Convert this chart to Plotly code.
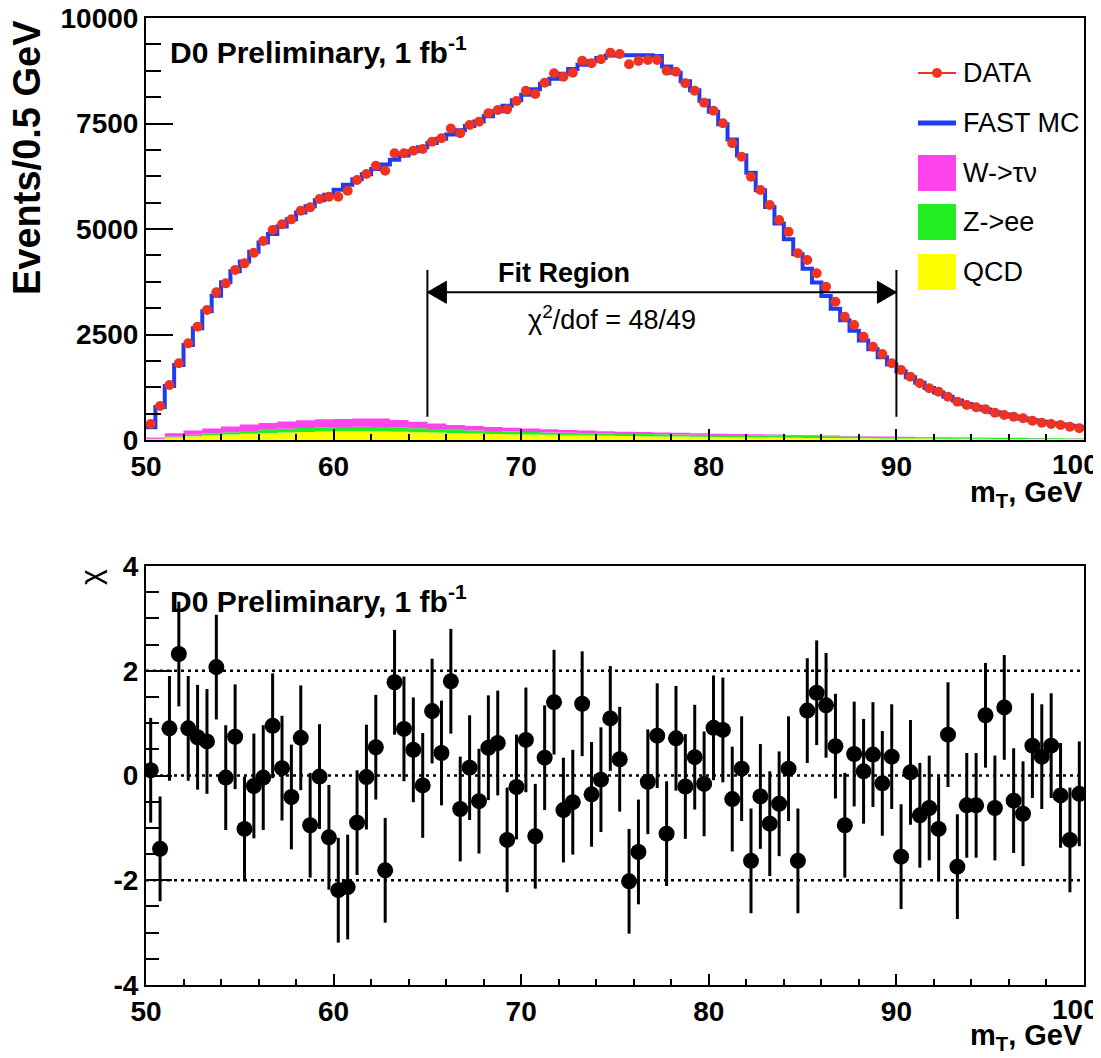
import numpy as np
import plotly.graph_objects as go

# page is 1101x1058; the html body has an 8px margin, so the figure is placed at (8, 8)
OFF = 8
FW, FH = 1101 - OFF, 1058 - OFF

# ---------------- data ----------------
bin_low = 50.0
bin_width = 0.5

data_counts = [379, 806, 1303, 1817, 2290, 2686, 3080, 3500, 3712, 4028,
               4186, 4439, 4715, 4976, 5111, 5229, 5434, 5513, 5711, 5766,
               5766, 5908, 6161, 6303, 6500, 6382, 6794, 6794, 6856, 6896,
               7070, 7149, 7380, 7268, 7464, 7543, 7742, 7820, 7836, 8033,
               8277, 8199, 8467, 8689, 8609, 8704, 8988, 8926, 9021, 9178,
               9147, 8903, 8981, 9005, 9005, 8751, 8728, 8452, 8277, 7993,
               7803, 7505, 7031, 6713, 6240, 5924, 5569, 5213, 4936, 4424,
               4265, 3950, 3633, 3278, 2922, 2725, 2448, 2211, 2038, 1817,
               1659, 1500, 1343, 1225, 1145, 1026, 908, 829, 775, 727,
               647, 592, 553, 514, 457, 410, 379, 355, 315, 277]

mc_counts = [300, 780, 1280, 1780, 2250, 2650, 3050, 3420, 3740, 4000,
             4230, 4460, 4680, 4880, 5060, 5230, 5390, 5540, 5680, 5810,
             5930, 6050, 6180, 6300, 6420, 6530, 6640, 6740, 6840, 6940,
             7040, 7140, 7240, 7340, 7440, 7550, 7670, 7790, 7920, 8050,
             8180, 8310, 8440, 8560, 8680, 8790, 8890, 8980, 9050, 9110,
             9120, 9120, 9120, 9120, 9100, 8850, 8700, 8500, 8290, 8040,
             7780, 7480, 7120, 6740, 6330, 5920, 5520, 5130, 4760, 4400,
             4060, 3730, 3410, 3110, 2840, 2590, 2360, 2150, 1960, 1790,
             1630, 1485, 1355, 1235, 1125, 1025, 935, 855, 785, 720,
             660, 605, 555, 510, 468, 430, 396, 366, 338, 312]

chi_vals = [0.10, -1.40, 0.90, 2.32, 0.90, 0.73, 0.65, 2.07, -0.04, 0.74,
            -1.02, -0.20, -0.04, 0.95, 0.14, -0.41, 0.72, -0.95, -0.02, -1.18,
            -2.19, -2.13, -0.90, -0.03, 0.54, -1.81, 1.78, 0.89, 0.49, -0.19,
            1.23, 0.43, 1.80, -0.64, 0.15, -0.49, 0.53, 0.62, -1.23, -0.22,
            0.68, -1.16, 0.34, 1.40, -0.66, -0.51, 1.37, -0.36, -0.08, 1.09,
            0.31, -2.02, -1.46, -0.12, 0.76, -1.11, 0.71, -0.21, 0.35, -0.16,
            0.91, 0.87, -0.45, 0.13, -1.63, -0.40, -0.92, -0.54, 0.13, -1.63,
            1.24, 1.58, 1.34, 0.56, -0.95, 0.41, 0.08, 0.40, -0.15, 0.36,
            -1.55, 0.06, -0.76, -0.62, -1.02, 0.78, -1.74, -0.57, -0.57, 1.15,
            -0.62, 1.30, -0.48, -0.73, 0.57, 0.36, 0.57, -0.38, -1.23, -0.35]
chi_err = 1.0

# backgrounds in 1 GeV bins
bkg_bin_width = 1.0
qcd = [20, 60, 90, 110, 130, 150, 165, 180, 190, 200,
       205, 205, 200, 195, 185, 175, 165, 155, 145, 138,
       130, 122, 115, 108, 100, 95, 90, 85, 80, 75,
       70, 66, 62, 58, 55, 50, 47, 44, 41, 38,
       36, 34, 32, 30, 28, 26, 25, 24, 23, 22]
zee = [10, 20, 35, 45, 55, 65, 75, 85, 95, 100,
       105, 110, 110, 105, 95, 85, 78, 72, 68, 64,
       60, 58, 56, 54, 52, 50, 50, 50, 50, 50,
       50, 50, 50, 48, 46, 44, 42, 40, 38, 36,
       34, 32, 30, 28, 26, 24, 22, 20, 18, 16]
wtau = [30, 80, 100, 120, 135, 150, 165, 175, 185, 190,
        190, 195, 200, 175, 150, 130, 115, 105, 95, 88,
        80, 74, 68, 62, 57, 52, 47, 43, 39, 35,
        31, 28, 25, 22, 19, 17, 15, 13, 11, 10,
        9, 8, 7, 6, 5, 5, 4, 4, 3, 3]

top_yticks = [0, 2500, 5000, 7500, 10000]
top_yticktext = ["0", "2500", "5000", "7500", "10000"]
x_ticks = [50, 60, 70, 80, 90, 100]
x_ticktext = ["50", "60", "70", "80", "90", ""]   # the edge label "100" is placed by hand below
x_last_label = "100"
bot_yticks = [-4, -2, 0, 2, 4]
bot_yticktext = ["-4", "-2", "0", "2", "4"]

fit_lo, fit_hi = 65, 90
legend_labels = ["DATA", "FAST MC", "W->\u03c4\u03bd", "Z->ee", "QCD"]

# ---------------- colours ----------------
C_DATA = "#ee3322"
C_MC = "#1f3cf0"
C_W = "#ff44ee"
C_Z = "#22ee22"
C_QCD = "#ffff00"

# ---------------- derived ----------------
nb = len(data_counts)
edges = bin_low + bin_width * np.arange(nb + 1)
centers = bin_low + bin_width * (np.arange(nb) + 0.5)
bedges = bin_low + bkg_bin_width * np.arange(len(qcd) + 1)
s1 = np.array(qcd, float)
s2 = s1 + np.array(zee, float)
s3 = s2 + np.array(wtau, float)


def ext(a):
    a = list(a)
    return a + [a[-1]]


def px(x):
    return (x - OFF) / FW


def py(y):
    return 1 - (y - OFF) / FH


fig = go.Figure()

fig.add_trace(go.Scatter(x=bedges, y=ext(s1), mode="lines", line=dict(width=0, shape="hv"),
                         fill="tozeroy", fillcolor=C_QCD, showlegend=False, xaxis="x", yaxis="y"))
fig.add_trace(go.Scatter(x=bedges, y=ext(s2), mode="lines", line=dict(width=0, shape="hv"),
                         fill="tonexty", fillcolor=C_Z, showlegend=False, xaxis="x", yaxis="y"))
fig.add_trace(go.Scatter(x=bedges, y=ext(s3), mode="lines", line=dict(width=0, shape="hv"),
                         fill="tonexty", fillcolor=C_W, showlegend=False, xaxis="x", yaxis="y"))
fig.add_trace(go.Scatter(x=edges, y=ext(mc_counts), mode="lines",
                         line=dict(color=C_MC, width=4, shape="hv"), showlegend=False,
                         xaxis="x", yaxis="y"))
fig.add_trace(go.Scatter(x=centers, y=data_counts, mode="markers",
                         marker=dict(color=C_DATA, size=10), showlegend=False,
                         xaxis="x", yaxis="y"))

fig.add_trace(go.Scatter(x=centers, y=chi_vals, mode="markers",
                         marker=dict(color="black", size=16),
                         error_y=dict(type="constant", value=chi_err, thickness=3, width=0, color="black"),
                         showlegend=False, xaxis="x2", yaxis="y2"))

axfont = dict(family="Liberation Sans", size=28, color="black", weight="bold")
common = dict(showline=True, linecolor="black", linewidth=2, mirror=True, ticks="inside",
              tickcolor="black", tickwidth=2, showgrid=False, zeroline=False, tickfont=axfont,
              automargin=False, ticklabeloverflow="allow")

top_dom = [py(440), py(18)]
bot_dom = [py(985), py(566)]
xdom = [px(146), px(1084)]

fig.update_layout(
    template="none",
    width=FW, height=FH,
    margin=dict(l=0, r=0, t=0, b=0, pad=0),
    paper_bgcolor="white", plot_bgcolor="white",
    showlegend=False,
    xaxis=dict(domain=xdom, anchor="y", range=[50, 100], tickvals=x_ticks, ticktext=x_ticktext, ticklen=11,
               minor=dict(dtick=2, tick0=50, ticklen=6, tickwidth=2, ticks="inside", tickcolor="black"),
               **common),
    yaxis=dict(domain=top_dom, anchor="x", range=[0, 10000], tickvals=top_yticks, ticktext=top_yticktext,
               ticklen=27,
               minor=dict(dtick=625, tick0=0, ticklen=15, tickwidth=2, ticks="inside", tickcolor="black"),
               **common),
    xaxis2=dict(domain=xdom, anchor="y2", range=[50, 100], tickvals=x_ticks, ticktext=x_ticktext, ticklen=11,
                minor=dict(dtick=2, tick0=50, ticklen=6, tickwidth=2, ticks="inside", tickcolor="black"),
                **common),
    yaxis2=dict(domain=bot_dom, anchor="x2", range=[-4, 4], tickvals=bot_yticks, ticktext=bot_yticktext,
                ticklen=26,
                minor=dict(dtick=0.5, tick0=0, ticklen=13, tickwidth=2, ticks="inside", tickcolor="black"),
                **common),
)

shapes = []
for yv in [-2, 0, 2]:
    shapes.append(dict(type="line", xref="x2", yref="y2", x0=50, x1=100, y0=yv, y1=yv,
                       line=dict(color="black", width=2.5, dash="3px,4px"), layer="below"))
for xv in [fit_lo, fit_hi]:
    shapes.append(dict(type="line", xref="x", yref="y", x0=xv, x1=xv, y0=550, y1=4030,
                       line=dict(color="black", width=2)))
shapes.append(dict(type="line", xref="x", yref="y", x0=fit_lo, x1=fit_hi, y0=3500, y1=3500,
                   line=dict(color="black", width=2)))
shapes.append(dict(type="path", xref="x", yref="y", xsizemode="pixel", ysizemode="pixel",
                   xanchor=fit_lo, yanchor=3500, path="M0,0 L19,11 L19,-11 Z",
                   fillcolor="black", line=dict(color="black", width=1)))
shapes.append(dict(type="path", xref="x", yref="y", xsizemode="pixel", ysizemode="pixel",
                   xanchor=fit_hi, yanchor=3500, path="M0,0 L-19,11 L-19,-11 Z",
                   fillcolor="black", line=dict(color="black", width=1)))

leg_y = [73, 123, 173, 222, 272]
shapes.append(dict(type="line", xref="paper", yref="paper", x0=px(918), x1=px(956),
                   y0=py(leg_y[0]), y1=py(leg_y[0]), line=dict(color=C_DATA, width=2)))
shapes.append(dict(type="circle", xref="paper", yref="paper", x0=px(932), x1=px(942),
                   y0=py(leg_y[0] + 5), y1=py(leg_y[0] - 5), fillcolor=C_DATA,
                   line=dict(color=C_DATA, width=0)))
shapes.append(dict(type="line", xref="paper", yref="paper", x0=px(918), x1=px(956),
                   y0=py(leg_y[1]), y1=py(leg_y[1]), line=dict(color=C_MC, width=5)))
for yy, col in zip(leg_y[2:], [C_W, C_Z, C_QCD]):
    shapes.append(dict(type="rect", xref="paper", yref="paper", x0=px(918), x1=px(956),
                       y0=py(yy + 18), y1=py(yy - 18), fillcolor=col, line=dict(width=0)))

fig.update_layout(shapes=shapes)

ann = []
bold = dict(family="Liberation Sans", color="black", weight="bold")
reg = dict(family="Liberation Sans", color="black")


def A(text, x, y, size, font, xanchor="left", yanchor="middle", angle=0, xref="paper", yref="paper"):
    f = dict(font)
    f["size"] = size
    ann.append(dict(text=text, x=x, y=y, xref=xref, yref=yref, xanchor=xanchor, yanchor=yanchor,
                    showarrow=False, font=f, textangle=angle))


for lab, yy in zip(legend_labels, leg_y):
    A(lab, px(961), py(yy), 27, reg)

A("D0 Preliminary, 1 fb<sup>-1</sup>", px(168), py(50), 30, bold)
A("D0 Preliminary, 1 fb<sup>-1</sup>", px(168), py(599), 30, bold)
A("Events/0.5 GeV", px(27), py(158), 38, bold, xanchor="center", angle=-90)
A("\u03c7", px(90), py(577), 30, reg, xanchor="center", angle=-90)
A("m<sub>T</sub>, GeV", px(1085), py(494), 29, bold, xanchor="right")
A("m<sub>T</sub>, GeV", px(1085), py(1037), 29, bold, xanchor="right")
A("Fit Region", 72.3, 3960, 27, bold, xanchor="center", xref="x", yref="y")
A("\u03c7<sup>2</sup>/dof = 48/49", 74.85, 2880, 27, reg, xanchor="center", xref="x", yref="y")
# edge tick label "100" (kept inside the page, as in the reference)
A(x_last_label, px(1101), py(465), 28, bold, xanchor="right")
A(x_last_label, px(1101), py(1009), 28, bold, xanchor="right")

fig.update_layout(annotations=ann)

fig.write_html("out.html")
